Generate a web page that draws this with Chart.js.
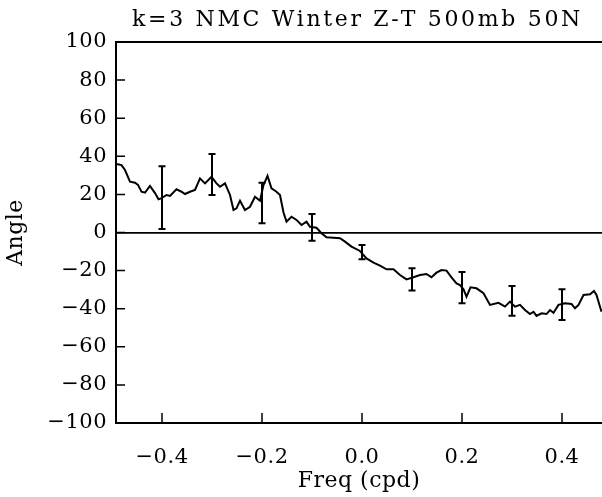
<!DOCTYPE html>
<html>
<head>
<meta charset="utf-8">
<script src="https://cdn.jsdelivr.net/npm/chart.js@4.4.1/dist/chart.umd.min.js"></script>
<style>
html, body { margin: 0; padding: 0; background: #fff; overflow: hidden; }
</style>
</head>
<body>
<canvas id="myChart" width="602" height="497"></canvas>
<script>
// phase angle vs frequency
const freq = [-0.491, -0.481, -0.474, -0.464, -0.454, -0.448, -0.441, -0.434, -0.424, -0.414,
  -0.407, -0.401, -0.391, -0.384, -0.371, -0.361, -0.354, -0.344, -0.334, -0.324,
  -0.314, -0.301, -0.291, -0.284, -0.274, -0.264, -0.257, -0.251, -0.244, -0.234,
  -0.224, -0.214, -0.204, -0.197, -0.189, -0.181, -0.171, -0.164, -0.157, -0.151,
  -0.141, -0.131, -0.121, -0.111, -0.104, -0.091, -0.081, -0.071, -0.057, -0.044,
  -0.034, -0.021, -0.004, 0.009, 0.023, 0.036, 0.049, 0.063, 0.076, 0.089,
  0.103, 0.116, 0.129, 0.139, 0.149, 0.159, 0.169, 0.179, 0.189, 0.196,
  0.203, 0.209, 0.217, 0.229, 0.243, 0.256, 0.273, 0.286, 0.296, 0.306,
  0.316, 0.326, 0.336, 0.343, 0.349, 0.359, 0.369, 0.376, 0.383, 0.393,
  0.406, 0.419, 0.426, 0.433, 0.443, 0.456, 0.464, 0.469, 0.479]
const angle = [36, 35.4, 32.8, 26.7, 26.1, 25, 21.4, 20.9, 24.4, 20.7,
  17.4, 18, 19.7, 19.2, 22.7, 21.4, 20.2, 21.4, 22.3, 28.4,
  25.8, 29.3, 25.8, 24, 25.8, 19.7, 11.8, 12.7, 16.7, 11.8,
  13.5, 18.8, 16.7, 24.9, 29.7, 23.2, 21.4, 19.7, 10.5, 5.7,
  8.3, 6.6, 3.9, 5.7, 3, 2.5, -0.4, -2.5, -2.7, -3,
  -4.8, -7.4, -9.7, -13.6, -15.8, -17.4, -19.3, -19.3, -22.3, -24.6,
  -23.5, -22.3, -21.8, -23.5, -21.1, -19.7, -20, -23.5, -26.7, -27.6,
  -29.8, -33.7, -28.8, -29.3, -31.9, -38, -36.9, -38.9, -36.3, -38.9,
  -38, -40.7, -42.8, -41.6, -43.8, -42.4, -42.8, -40.7, -42.1, -38,
  -37.2, -37.5, -39.8, -38, -32.8, -32.4, -30.7, -32.8, -41.6]

// error bars
const barFreq = [-0.4, -0.3, -0.2, -0.1, 0.0, 0.1, 0.2, 0.3, 0.4]
const barLow = [1.8, 19.7, 4.8, -4.3, -14.1, -30.5, -37.2, -43.7, -45.9]
const barHigh = [34.8, 41.2, 26.1, 9.7, -6.6, -18.8, -20.7, -28.1, -29.8]

const xTicks = [-0.4, -0.2, 0.0, 0.2, 0.4]
const yTicks = [-100, -80, -60, -40, -20, 0, 20, 40, 60, 80, 100]
const titleText = 'k=3 NMC Winter Z-T 500mb 50N'

const fontFamily = '"DejaVu Serif", "Liberation Serif", serif'
const minus = s => s.replace('-', '\u2212')

const frame = {
  id: 'frame',
  beforeDraw(chart) {
    chart.ctx.letterSpacing = '0.5px'
  },
  afterDatasetsDraw(chart) {
    const ctx = chart.ctx
    const xs = chart.scales.x, ys = chart.scales.y
    const area = chart.chartArea
    ctx.save()
    ctx.strokeStyle = '#000'
    // error bars
    ctx.lineWidth = 2
    barFreq.forEach((f, i) => {
      const px = xs.getPixelForValue(f)
      const top = ys.getPixelForValue(barHigh[i])
      const bot = ys.getPixelForValue(barLow[i])
      ctx.beginPath()
      ctx.moveTo(px, top); ctx.lineTo(px, bot)
      ctx.moveTo(px - 3.5, top); ctx.lineTo(px + 3.5, top)
      ctx.moveTo(px - 3.5, bot); ctx.lineTo(px + 3.5, bot)
      ctx.stroke()
    })
    // top border
    ctx.lineWidth = 2
    ctx.beginPath()
    ctx.moveTo(area.left - 1, area.top); ctx.lineTo(area.right, area.top)
    ctx.stroke()
    // inward ticks
    ctx.lineWidth = 1.5
    ctx.beginPath()
    xTicks.forEach(v => {
      const px = xs.getPixelForValue(v)
      ctx.moveTo(px, area.bottom); ctx.lineTo(px, area.bottom - 10)
    })
    yTicks.forEach(v => {
      const py = ys.getPixelForValue(v)
      ctx.moveTo(area.left, py); ctx.lineTo(area.left + 9, py)
    })
    ctx.stroke()
    ctx.restore()
  },
  afterDraw(chart) {
    const ctx = chart.ctx
    ctx.save()
    ctx.font = '22px ' + fontFamily
    ctx.letterSpacing = '0px'
    const w0 = ctx.measureText(titleText).width
    const sp = (451 - w0) / titleText.length
    ctx.letterSpacing = sp + 'px'
    ctx.fillStyle = '#000'
    ctx.textAlign = 'left'
    ctx.textBaseline = 'alphabetic'
    ctx.fillText(titleText, 132, 26)
    ctx.restore()
  }
}

const myChart = document.getElementById('myChart').getContext('2d')
const tempChart = new Chart(myChart, {
  type: 'line',
  data: {
    datasets: [{
      data: freq.map((f, i) => ({ x: f, y: angle[i] })),
      borderColor: '#000',
      borderWidth: 2,
      pointRadius: 0,
      tension: 0,
      fill: false
    }]
  },
  options: {
    responsive: false,
    animation: false,
    layout: { padding: { top: 42, left: 0, right: 0, bottom: 0 } },
    plugins: {
      legend: { display: false },
      title: { display: false },
      tooltip: { enabled: false }
    },
    scales: {
      x: {
        type: 'linear',
        min: -0.492,
        max: 0.48,
        afterBuildTicks: s => { s.ticks = xTicks.map(v => ({ value: v })) },
        afterFit: s => { s.height = 74 },
        border: { display: true, color: '#000', width: 2 },
        grid: { display: false },
        ticks: {
          color: '#000',
          padding: 14,
          maxRotation: 0,
          font: { family: fontFamily, size: 21 },
          callback: v => minus(Number(v).toFixed(1))
        },
        title: {
          display: true,
          text: 'Freq (cpd)',
          color: '#000',
          font: { family: fontFamily, size: 22 },
          padding: { top: 0, bottom: 3 }
        }
      },
      y: {
        min: -100,
        max: 100,
        afterBuildTicks: s => { s.ticks = yTicks.map(v => ({ value: v })) },
        afterFit: s => { s.width = 116 },
        border: { display: true, color: '#000', width: 2 },
        grid: {
          drawTicks: false,
          lineWidth: 1.8,
          color: c => (c.tick && c.tick.value === 0 ? '#000' : 'rgba(0,0,0,0)')
        },
        ticks: {
          color: '#000',
          padding: 9,
          font: { family: fontFamily, size: 21 },
          callback: v => minus(String(v))
        },
        title: {
          display: true,
          text: 'Angle',
          color: '#000',
          font: { family: fontFamily, size: 22 },
          padding: { top: 3, bottom: 0 }
        }
      }
    }
  },
  plugins: [frame]
})
</script>
</body>
</html>
